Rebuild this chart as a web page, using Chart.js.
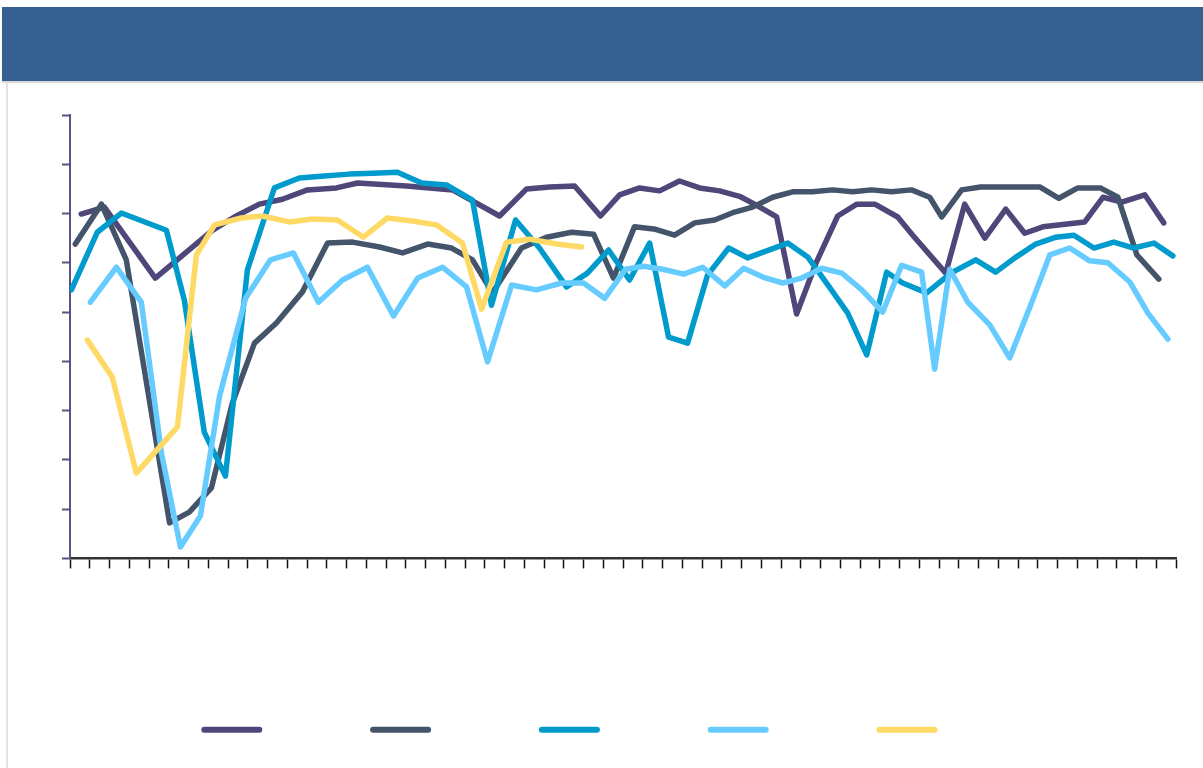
<!DOCTYPE html>
<html>
<head>
<meta charset="utf-8">
<script src="https://cdn.jsdelivr.net/npm/chart.js@4.4.1/dist/chart.umd.min.js"></script>
<style>
  html, body { margin: 0; padding: 0; background: #fff; width: 1203px; height: 768px; overflow: hidden; }
  .header { position: absolute; left: 2px; top: 7px; right: 0; height: 74px; background: #366092; box-shadow: 0 2px 1px rgba(0,0,0,0.15); }
  .card { position: absolute; left: 6px; top: 83px; bottom: 0; right: 0; border-left: 2px solid #e2e2e2; }
  .chart-box { position: absolute; left: 0; top: 85px; width: 1203px; height: 683px; }
</style>
</head>
<body>
<div class="header"></div>
<div class="card"></div>
<div class="chart-box"><canvas id="myChart"></canvas></div>
<script>
// x = position along the axis (tick units, 0..56), y = value (0..90)
const series1X = [0.57, 1.74, 4.32, 7.21, 8.32, 9.59, 10.76, 12.02, 13.49, 14.56, 17.04, 19.37, 21.75, 23.12, 24.29, 25.55, 26.86, 27.83, 28.84, 29.85, 30.86, 31.88, 32.89, 33.90, 34.75, 35.78, 36.79, 37.80, 38.87, 39.84, 40.75, 41.91, 42.67, 44.34, 45.30, 46.32, 47.38, 48.34, 49.26, 51.38, 52.30, 53.26, 54.42, 55.38];
const series1Y = [69.9, 71.3, 56.9, 66.6, 69.3, 71.9, 72.9, 74.8, 75.2, 76.2, 75.6, 74.8, 69.5, 75.0, 75.4, 75.6, 69.5, 73.8, 75.2, 74.6, 76.6, 75.2, 74.6, 73.5, 71.7, 69.3, 49.6, 60.2, 69.5, 71.9, 71.9, 69.3, 65.6, 57.9, 71.9, 65.0, 70.9, 66.0, 67.3, 68.3, 73.3, 72.3, 73.8, 68.1];

const series2X = [0.27, 1.59, 2.85, 5.04, 6.04, 7.16, 8.22, 9.34, 10.45, 11.77, 13.04, 14.31, 15.67, 16.84, 18.11, 19.32, 20.38, 21.39, 22.86, 24.13, 25.40, 26.51, 27.52, 28.58, 29.65, 30.61, 31.63, 32.64, 33.65, 34.56, 35.58, 36.59, 37.60, 38.61, 39.63, 40.59, 41.60, 42.61, 43.53, 44.14, 45.15, 46.11, 47.08, 48.09, 49.10, 50.07, 51.03, 52.17, 53.06, 54.02, 55.13];
const series2Y = [63.8, 71.9, 60.6, 7.2, 9.4, 14.3, 31.5, 43.7, 47.8, 54.1, 64.0, 64.2, 63.2, 62.0, 63.8, 63.0, 60.6, 53.9, 63.0, 65.2, 66.2, 65.8, 56.9, 67.3, 66.8, 65.6, 68.1, 68.7, 70.3, 71.3, 73.3, 74.4, 74.4, 74.8, 74.4, 74.8, 74.4, 74.8, 73.3, 69.3, 74.8, 75.4, 75.4, 75.4, 75.4, 73.1, 75.2, 75.2, 73.3, 61.6, 56.7];

const series3X = [0.07, 1.38, 2.60, 4.88, 5.79, 6.80, 7.87, 8.98, 10.35, 11.61, 12.88, 14.15, 15.32, 16.58, 17.80, 19.06, 20.38, 21.34, 22.56, 23.77, 25.14, 26.20, 27.27, 28.33, 29.35, 30.31, 31.27, 32.28, 33.35, 34.31, 36.34, 37.35, 38.37, 39.38, 40.34, 41.35, 42.16, 43.38, 44.60, 45.86, 46.87, 47.84, 48.90, 49.92, 50.83, 51.84, 52.85, 53.86, 54.88, 55.84];
const series3Y = [54.5, 66.2, 70.1, 66.6, 52.4, 25.6, 16.7, 58.5, 75.2, 77.2, 77.6, 78.0, 78.2, 78.4, 76.2, 75.8, 72.7, 51.4, 68.7, 63.0, 55.1, 57.9, 62.6, 56.5, 64.0, 44.9, 43.7, 57.5, 63.0, 61.0, 64.0, 61.2, 55.5, 49.8, 41.3, 58.1, 55.9, 53.9, 57.9, 60.6, 58.1, 61.0, 63.8, 65.2, 65.6, 63.0, 64.2, 63.0, 64.0, 61.4];

const series4X = [1.03, 2.35, 3.61, 4.63, 5.59, 6.60, 7.57, 8.89, 10.15, 11.31, 12.58, 13.80, 15.06, 16.38, 17.61, 18.86, 20.08, 21.14, 22.36, 23.62, 24.89, 26.00, 27.07, 28.13, 29.04, 30.01, 31.07, 32.04, 33.15, 34.11, 35.08, 36.09, 37.05, 38.06, 39.08, 40.09, 41.15, 42.11, 43.12, 43.78, 44.54, 45.46, 46.57, 47.58, 48.60, 49.61, 50.62, 51.63, 52.55, 53.66, 54.58, 55.59];
const series4Y = [52.0, 59.1, 52.0, 21.4, 2.3, 8.6, 32.9, 52.8, 60.6, 62.0, 52.0, 56.5, 59.1, 49.2, 56.9, 59.1, 55.1, 39.9, 55.5, 54.5, 55.9, 55.9, 52.8, 58.7, 59.3, 58.7, 57.7, 59.1, 55.3, 58.9, 57.1, 55.9, 56.9, 58.9, 57.9, 54.5, 50.0, 59.5, 58.1, 38.4, 58.7, 52.0, 47.4, 40.7, 51.0, 61.6, 63.0, 60.4, 60.0, 56.1, 49.8, 44.5];

const series5X = [0.88, 2.14, 3.36, 5.44, 6.40, 7.32, 8.68, 9.74, 11.11, 12.28, 13.54, 14.86, 16.07, 17.34, 18.55, 19.87, 20.84, 22.10, 23.27, 24.64, 25.90];
const series5Y = [44.3, 36.8, 17.3, 26.7, 61.6, 67.7, 69.1, 69.5, 68.3, 68.9, 68.7, 65.2, 69.1, 68.5, 67.7, 64.0, 50.6, 64.2, 64.8, 63.8, 63.2];

const xMax = 56;
const yMax = 90;

const colors = ['#4F4779', '#44546A', '#009BCD', '#66CCFF', '#FFD966'];

function toPoints(xs, ys) {
    return xs.map((x, i) => ({ x: x, y: ys[i] }));
}

const allSeries = [
    toPoints(series1X, series1Y),
    toPoints(series2X, series2Y),
    toPoints(series3X, series3Y),
    toPoints(series4X, series4Y),
    toPoints(series5X, series5Y)
];

const ctx = document.getElementById('myChart').getContext('2d');

const datasets = allSeries.map((pts, i) => ({
    label: '',
    data: pts,
    borderColor: colors[i],
    backgroundColor: colors[i],
    borderWidth: 5.5,
    borderJoinStyle: 'round',
    borderCapStyle: 'round',
    pointRadius: 0,
    pointHoverRadius: 0,
    tension: 0,
    fill: false,
    order: allSeries.length - i // later series drawn on top
}));

new Chart(ctx, {
    type: 'line',
    data: { datasets: datasets },
    options: {
        responsive: true,
        maintainAspectRatio: false,
        animation: false,
        layout: { padding: { left: 0, right: 27, top: 30, bottom: 10 } },
        plugins: {
            tooltip: { enabled: false },
            legend: {
                position: 'bottom',
                maxHeight: 142,
                labels: {
                    usePointStyle: true,
                    pointStyle: 'line',
                    pointStyleWidth: 55,
                    padding: 76.6,
                    font: { size: 74.4 },
                    sort: (a, b) => a.datasetIndex - b.datasetIndex,
                    generateLabels: function (chart) {
                        const items = Chart.defaults.plugins.legend.labels.generateLabels(chart);
                        return items.map(it => Object.assign(it, { lineCap: 'round', lineWidth: 6 }));
                    }
                }
            }
        },
        scales: {
            x: {
                type: 'linear',
                min: 0,
                max: xMax,
                ticks: { stepSize: 1, display: false },
                grid: { drawOnChartArea: false, tickLength: 10, tickColor: '#111', tickWidth: 1.5 },
                border: { color: '#333', width: 2.5 },
                afterFit: function (scale) { scale.height = 57.6; }
            },
            y: {
                min: 0,
                max: yMax,
                ticks: { stepSize: 10, display: false },
                grid: { drawOnChartArea: false, tickLength: 8, tickColor: '#5B5283', tickWidth: 2 },
                border: { color: '#5B5283', width: 2 },
                afterFit: function (scale) { scale.width = 70; }
            }
        }
    }
});
</script>
</body>
</html>
